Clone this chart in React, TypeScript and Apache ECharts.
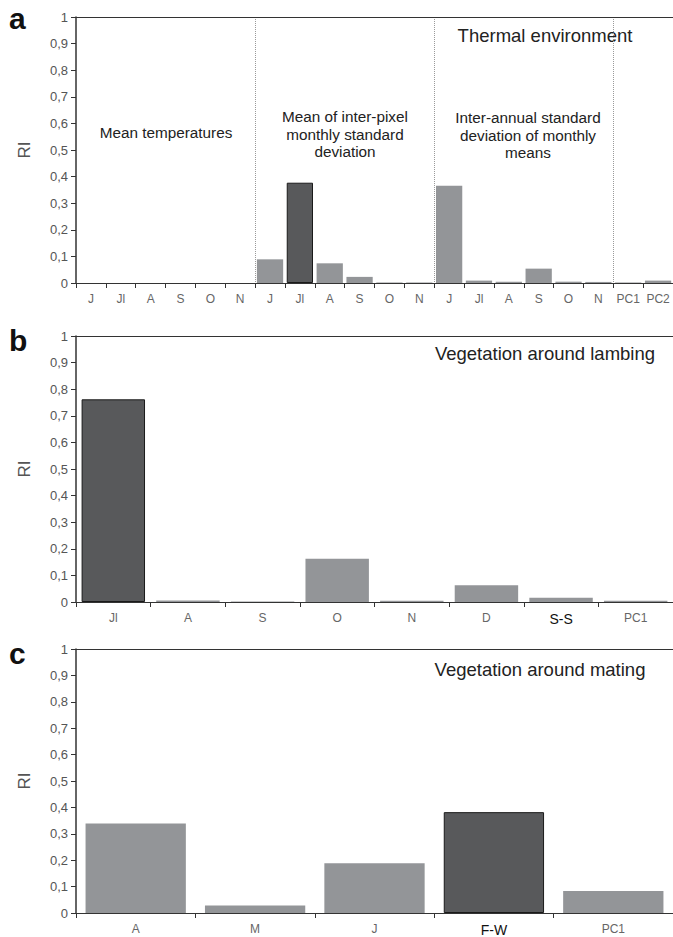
import React, { useEffect, useRef } from "react";
import * as echarts from "echarts";

const catsA = ["J", "Jl", "A", "S", "O", "N", "J", "Jl", "A", "S", "O", "N", "J", "Jl", "A", "S", "O", "N", "PC1", "PC2"];
const valsA = [0, 0, 0, 0, 0, 0, 0.089, 0.377, 0.074, 0.023, 0.002, 0.002, 0.366, 0.009, 0.005, 0.054, 0.005, 0.004, 0.002, 0.009];
const darkA = [7];

const catsB = ["Jl", "A", "S", "O", "N", "D", "S-S", "PC1"];
const valsB = [0.762, 0.006, 0.002, 0.163, 0.005, 0.063, 0.016, 0.005];
const darkB = [0];
const boldB = ["S-S"];

const catsC = ["A", "M", "J", "F-W", "PC1"];
const valsC = [0.339, 0.028, 0.188, 0.382, 0.083];
const darkC = [3];
const boldC = ["F-W"];

const yTicks = ["0", "0,1", "0,2", "0,3", "0,4", "0,5", "0,6", "0,7", "0,8", "0,9", "1"];
const sectionLabels = [
  "Mean temperatures",
  "Mean of inter-pixel\nmonthly standard\ndeviation",
  "Inter-annual standard\ndeviation of monthly\nmeans",
];
const panelTitles = ["Thermal environment", "Vegetation around lambing", "Vegetation around mating"];
const panelLetters = ["a", "b", "c"];
const sectionBounds = [6, 12, 18];

const FONT = "'Liberation Sans', Arial, sans-serif";
const LIGHT = "#939598";
const DARK = "#58595b";

export default function App() {
  const ref = useRef<HTMLDivElement>(null);
  useEffect(() => {
    document.body.style.margin = "0";
    const chart = echarts.init(ref.current!, undefined, { renderer: "svg" });
    const grids = [
      { left: 76, top: 17, width: 597, height: 266 },
      { left: 76, top: 336, width: 597, height: 266 },
      { left: 76, top: 649, width: 597, height: 265 },
    ];
    const cats = [catsA, catsB, catsC];
    const vals = [valsA, valsB, valsC];
    const darks = [darkA, darkB, darkC];
    const bolds = [[], boldB, boldC];
    const gaps = ["12%", "15%", "16%"];

    const xAxes: any[] = [];
    const yAxes: any[] = [];
    const series: any[] = [];
    grids.forEach((g, i) => {
      xAxes.push({
        type: "category",
        gridIndex: i,
        position: "bottom",
        data: cats[i].map((c) =>
          (bolds[i] as string[]).includes(c)
            ? { value: c, textStyle: { color: "#111", fontSize: 14 } }
            : c
        ),
        axisLine: { lineStyle: { color: "#333", width: 1 } },
        axisTick: { show: true, length: 5, lineStyle: { color: "#333" } },
        axisLabel: { interval: 0, color: "#666", fontSize: 12, fontFamily: FONT, margin: 10 },
        splitLine: i === 0
          ? {
              show: true,
              interval: (idx: number) => sectionBounds.includes(idx),
              lineStyle: { type: "dotted", color: "#9a9a9a", width: 1 },
            }
          : { show: false },
      });
      xAxes.push({
        type: "category",
        gridIndex: i,
        position: "top",
        data: cats[i],
        axisLine: { show: true, lineStyle: { color: "#333", width: 1 } },
        axisTick: { show: false },
        axisLabel: { show: false },
        splitLine: { show: false },
      });
      yAxes.push({
        type: "value",
        gridIndex: i,
        min: 0,
        max: 1,
        interval: 0.1,
        name: "RI",
        nameLocation: "middle",
        nameRotate: 90,
        nameGap: 43,
        nameTextStyle: { color: "#555", fontSize: 17, fontFamily: FONT },
        axisLine: { show: true, lineStyle: { color: "#333", width: 1.5 } },
        axisTick: { show: true, length: 5, lineStyle: { color: "#333" } },
        axisLabel: {
          color: "#555",
          fontSize: 13,
          fontFamily: FONT,
          margin: 8,
          formatter: (v: number) => yTicks[Math.round(v * 10)],
        },
        splitLine: { show: false },
      });
      series.push({
        type: "bar",
        xAxisIndex: i * 2,
        yAxisIndex: i,
        barCategoryGap: gaps[i],
        data: vals[i].map((v, k) =>
          darks[i].includes(k)
            ? { value: v, itemStyle: { color: DARK, borderColor: "#1a1a1a", borderWidth: 1 } }
            : { value: v, itemStyle: { color: LIGHT } }
        ),
      });
    });

    const graphics: any[] = [];
    const letterY = [30, 352, 665];
    panelLetters.forEach((l, i) => {
      graphics.push({
        type: "text",
        left: 9,
        top: letterY[i] - 27,
        style: { text: l, fontSize: 30, fontWeight: "bold", fill: "#111", fontFamily: FONT },
      });
    });
    const titlePos = [
      [545, 35],
      [545, 353],
      [540, 669],
    ];
    panelTitles.forEach((t, i) => {
      graphics.push({
        type: "text",
        x: titlePos[i][0],
        y: titlePos[i][1],
        style: {
          text: t,
          fontSize: 18.5,
          fill: "#222",
          fontFamily: FONT,
          align: "center",
          verticalAlign: "middle",
        },
      });
    });
    const secPos = [
      [166, 132],
      [345, 134],
      [528, 135],
    ];
    sectionLabels.forEach((t, i) => {
      graphics.push({
        type: "text",
        x: secPos[i][0],
        y: secPos[i][1],
        style: {
          text: t,
          fontSize: 15.3,
          lineHeight: 17.5,
          fill: "#222",
          fontFamily: FONT,
          align: "center",
          verticalAlign: "middle",
        },
      });
    });

    chart.setOption({
      animation: false,
      backgroundColor: "#fff",
      grid: grids,
      xAxis: xAxes,
      yAxis: yAxes,
      series,
      graphic: graphics,
    });
    return () => chart.dispose();
  }, []);
  return <div ref={ref} style={{ width: 673, height: 937 }} />;
}
